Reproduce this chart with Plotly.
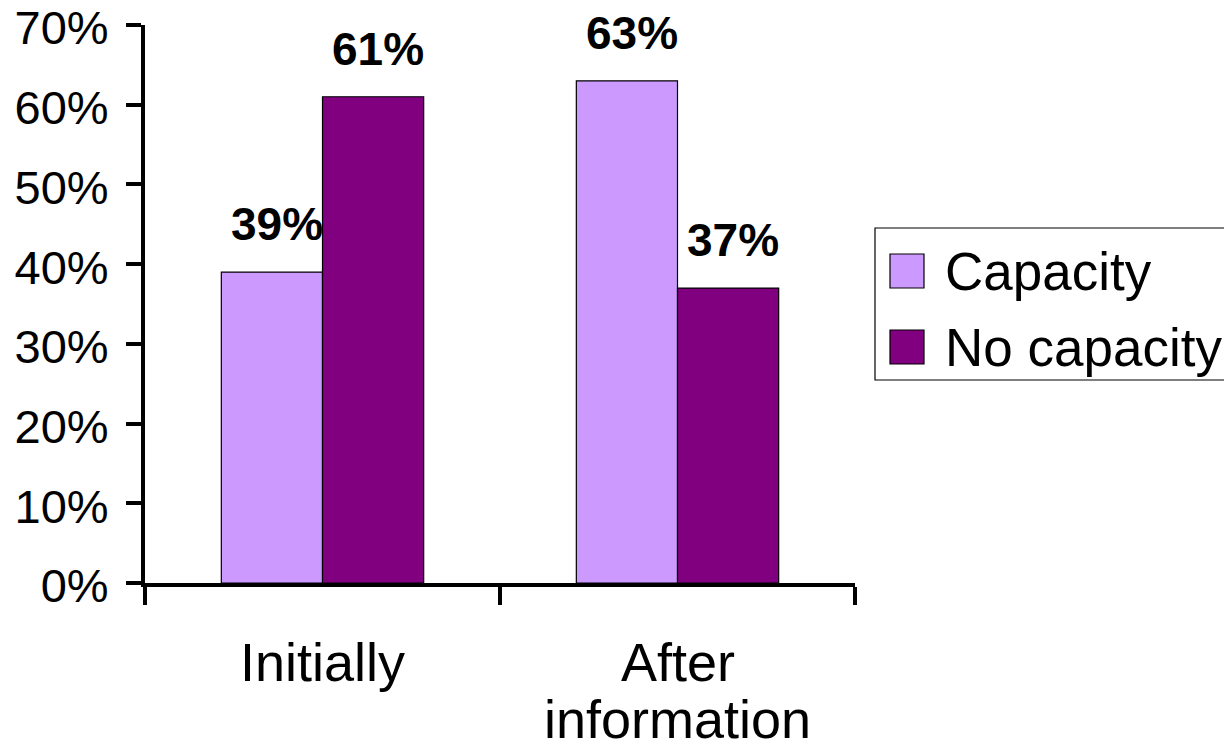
import plotly.graph_objects as go

categories = ["Initially", "After information"]
category_lines = [["Initially"], ["After", "information"]]
series_names = ["Capacity", "No capacity"]
capacity = [0.39, 0.63]
no_capacity = [0.61, 0.37]
y_ticks = [0.0, 0.1, 0.2, 0.3, 0.4, 0.5, 0.6, 0.7]
y_tick_labels = ["0%", "10%", "20%", "30%", "40%", "50%", "60%", "70%"]
colors = ["#CC99FF", "#800080"]

FONT = "Liberation Sans, Arial, sans-serif"
W, H = 1224, 754
L, R, T, B = 145, 369, 25, 171
PW, PH = W - L - R, H - T - B


def px_x(p):
    return (p - L) / PW


def px_y(p):
    return (H - B - p) / PH


fig = go.Figure()
for name, vals, col in zip(series_names, [capacity, no_capacity], colors):
    fig.add_trace(go.Bar(
        x=categories, y=vals, name=name,
        marker=dict(color=col, line=dict(color="#000000", width=1.2)),
        showlegend=False,
    ))

# value labels above each bar
shifts = [-50, 51]
for vals, dx in zip([capacity, no_capacity], shifts):
    for cat, v in zip(categories, vals):
        fig.add_annotation(
            x=cat, y=v, xref="x", yref="y", text=f"<b>{round(v * 100)}%</b>",
            showarrow=False, xshift=dx + 4, yshift=20, yanchor="bottom",
            font=dict(family=FONT, size=46, color="#000000"),
        )

# category labels under the axis, one annotation per line
line_middles = [662, 719]
for cat, lines in zip(categories, category_lines):
    for text, mid in zip(lines, line_middles):
        fig.add_annotation(
            x=cat, y=px_y(mid), xref="x", yref="paper", text=text,
            showarrow=False, yanchor="middle", xanchor="center",
            font=dict(family=FONT, size=54, color="#000000"),
        )

# legend box with swatches
fig.add_shape(type="rect", xref="paper", yref="paper",
              x0=px_x(875), x1=px_x(1232), y0=px_y(380), y1=px_y(228),
              line=dict(color="#000000", width=1.2), fillcolor="white")
legend_rows = [271, 347]
for name, col, yc in zip(series_names, colors, legend_rows):
    fig.add_shape(type="rect", xref="paper", yref="paper",
                  x0=px_x(890), x1=px_x(924), y0=px_y(yc + 17), y1=px_y(yc - 17),
                  line=dict(color="#000000", width=1.2), fillcolor=col)
    fig.add_annotation(x=px_x(943), y=px_y(yc), xref="paper", yref="paper",
                       text=name, showarrow=False, xanchor="left", yanchor="middle",
                       font=dict(family=FONT, size=53, color="#000000"))

fig.update_layout(
    width=W, height=H,
    margin=dict(l=L, r=R, t=T, b=B, pad=0, autoexpand=False),
    paper_bgcolor="white", plot_bgcolor="white",
    barmode="group", bargap=0.43, bargroupgap=0,
    font=dict(family=FONT, color="#000000"),
    showlegend=False,
)
fig.update_xaxes(
    showline=True, linecolor="#000000", linewidth=4,
    ticks="outside", tickson="boundaries", ticklen=18, tickwidth=4, tickcolor="#000000",
    showticklabels=False, automargin=False,
    showgrid=False, zeroline=False,
)
fig.update_yaxes(
    range=[0, 0.7], tickvals=y_ticks, ticktext=y_tick_labels,
    showline=True, linecolor="#000000", linewidth=4,
    ticks="outside", ticklen=15, tickwidth=4, tickcolor="#000000",
    tickfont=dict(family=FONT, size=47, color="#000000"),
    ticklabelstandoff=8, ticklabelshift=3, ticklabeloverflow="allow",
    automargin=False, showgrid=False, zeroline=False,
)

fig.write_html("out.html")
